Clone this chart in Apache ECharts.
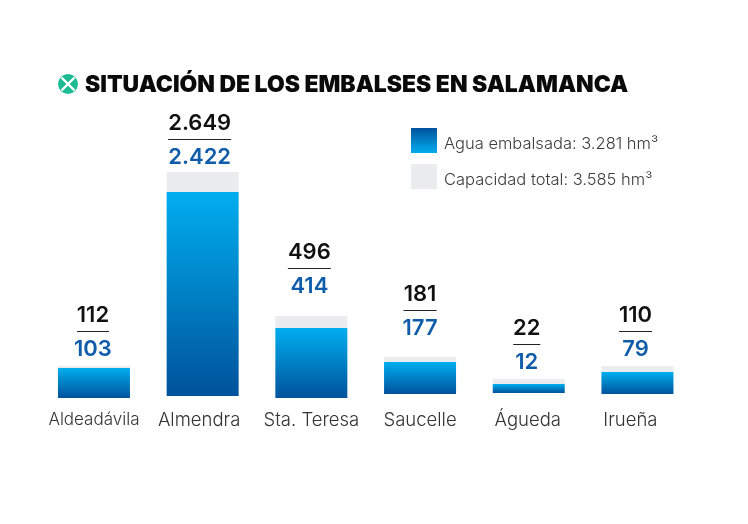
<!DOCTYPE html>
<html>
<head>
<meta charset="utf-8">
<style>html,body{margin:0;padding:0;background:#fff}#c{width:748px;height:524px}</style>
<script src="https://cdn.jsdelivr.net/npm/echarts@6/dist/echarts.min.js"></script>
</head>
<body>
<div id="c"></div>
<script>
const titulo = 'SITUACIÓN DE LOS EMBALSES EN SALAMANCA';
const embalses = ['Aldeadávila', 'Almendra', 'Sta. Teresa', 'Saucelle', 'Águeda', 'Irueña'];
// Printed figures (hm³)
const capacidad = ['112', '2.649', '496', '181', '22', '110'];
const agua = ['103', '2.422', '414', '177', '12', '79'];
// The reference's bars are not to scale with the printed figures: drawn lengths
const alturaAgua = [30, 204, 70, 32, 9, 22];
const alturaTotal = [32, 224, 82, 37, 14, 28];
const arranque = [0, 2, 0, 4, 5, 4];
const nombreAgua = 'Agua embalsada: 3.281 hm³';
const nombreTotal = 'Capacidad total: 3.585 hm³';

const FONT = 'Inter';
const grad = (a, b) => new echarts.graphic.LinearGradient(0, 0, 0, 1, [{offset: 0, color: a}, {offset: 1, color: b}]);
const CLARO = '#00AEEF', OSCURO = '#00529B';
const huecos = [-1, -3, 12, 11, -1, -1];
const desvio = [-1, -3, -2, 0, -2, -2];
const ctx = document.createElement('canvas').getContext('2d');
ctx.font = '600 22px ' + FONT;
const anchoRegla = s => Math.round(ctx.measureText(s).width);
const despl = {Almendra: [0, 7, 0, 0], 'Irueña': [0, 14, 0, 0], 'Águeda': [0, 2, 0, 0]};
const tamEtiqueta = {'Aldeadávila': 17};

const chart = echarts.init(document.getElementById('c'), null, {renderer: 'canvas'});
chart.setOption({
  backgroundColor: '#fff',
  animation: false,
  title: {
    text: titulo, left: 85, top: 74, padding: 0,
    textStyle: {fontFamily: FONT, fontWeight: 900, fontSize: 22.9, color: '#0a0a0a'}
  },
  legend: {
    orient: 'vertical', left: 411, top: 128, padding: 0, itemWidth: 26, itemHeight: 25, itemGap: 11,
    selectedMode: false,
    formatter: n => '{s| }\n{t|' + n + '}',
    textStyle: {
      fontFamily: FONT, fontSize: 16.5, fontWeight: 300, color: '#3c3c3c',
      rich: {
        s: {fontSize: 1, lineHeight: 8, padding: [0, 0, 0, 2]},
        t: {fontFamily: FONT, fontSize: 16.5, fontWeight: 300, color: '#3c3c3c', lineHeight: 20, padding: [0, 0, 0, 2]}
      }
    },
    data: [
      {name: nombreAgua, icon: 'rect', itemStyle: {color: grad(OSCURO, CLARO)}},
      {name: nombreTotal, icon: 'rect', itemStyle: {color: '#EBECEE'}}
    ]
  },
  grid: {left: 39.6, width: 652.2, top: 100, height: 298},
  xAxis: {
    type: 'category', data: embalses,
    axisLine: {show: false}, axisTick: {show: false},
    axisLabel: {
      interval: 0, margin: 13, color: '#333',
      fontFamily: FONT, fontSize: 18.5, fontWeight: 300,
      formatter: v => '{' + 'c' + embalses.indexOf(v) + '|' + v + '}',
      rich: Object.fromEntries(embalses.map((n, i) => ['c' + i, {
        fontFamily: FONT, fontSize: tamEtiqueta[n] || 18.5, fontWeight: 300, color: '#333', padding: despl[n] || [0, 0, 0, 0]
      }]))
    }
  },
  yAxis: {type: 'value', min: 0, max: 298, show: false},
  series: [
    {
      type: 'bar', stack: 'e', barWidth: 72, silent: true,
      data: arranque, itemStyle: {color: 'transparent'}, legendHoverLink: false
    },
    {
      name: nombreAgua, type: 'bar', stack: 'e', barWidth: 72,
      data: alturaAgua, itemStyle: {color: grad(CLARO, OSCURO)}
    },
    {
      name: nombreTotal, type: 'bar', stack: 'e', barWidth: 72,
      data: alturaTotal.map((t, i) => ({
        value: t - alturaAgua[i],
        label: {
          show: true, position: 'top', distance: huecos[i], offset: [desvio[i], 0], align: 'center',
          formatter: '{t|' + capacidad[i] + '}\n{r| }\n{a|' + agua[i] + '}',
          rich: {
            t: {fontFamily: FONT, fontSize: 22, fontWeight: 600, color: '#111', lineHeight: 31, align: 'center'},
            r: {width: anchoRegla(capacidad[i]), height: 1, lineHeight: 1, fontSize: 1, backgroundColor: '#222', align: 'center'},
            a: {fontFamily: FONT, fontSize: 22, fontWeight: 600, color: '#0F5CAB', lineHeight: 35, align: 'center'}
          }
        }
      })),
      itemStyle: {color: '#EBECEE'}
    }
  ],
  graphic: [{
    type: 'group', left: 58, top: 74,
    children: [
      {type: 'circle', shape: {cx: 10, cy: 10, r: 10}, style: {fill: '#1DBB94'}},
      {type: 'line', shape: {x1: 3.5, y1: 3.5, x2: 16.5, y2: 16.5}, style: {stroke: '#fff', lineWidth: 2.4}},
      {type: 'line', shape: {x1: 16.5, y1: 3.5, x2: 3.5, y2: 16.5}, style: {stroke: '#fff', lineWidth: 2.4}}
    ]
  }]
});
</script>
</body>
</html>
